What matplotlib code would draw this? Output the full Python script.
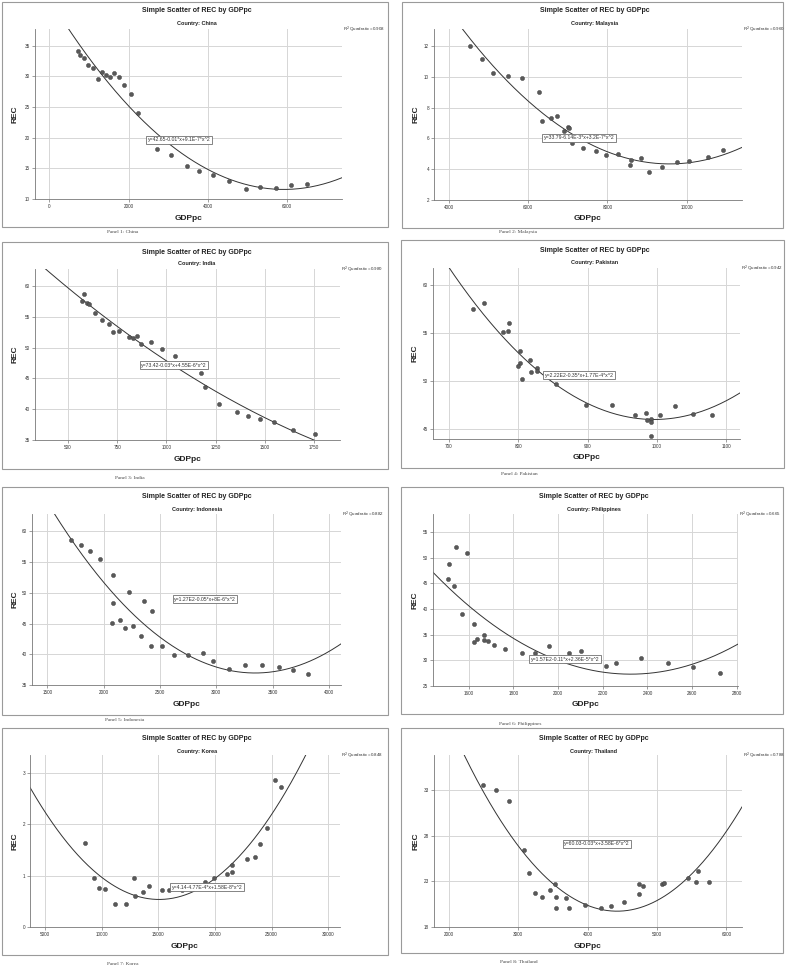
import numpy as np
import matplotlib
matplotlib.use('Agg')
import matplotlib.pyplot as plt
from matplotlib.patches import Rectangle

# ---------------- data ----------------
countries = ['China', 'Malaysia', 'India', 'Pakistan', 'Indonesia', 'Philippines', 'Korea', 'Thailand']

china_gdp = [716, 775, 884, 985, 1112, 1221, 1322, 1432, 1533, 1642, 1760, 1895, 2055, 2248,
             2728, 3065, 3469, 3789, 4126, 4539, 4960, 5322, 5709, 6105, 6501]
china_rec = [34.18, 33.42, 33.04, 31.79, 31.36, 29.57, 30.65, 30.27, 29.84, 30.60, 29.84, 28.53,
             27.17, 24.02, 18.21, 17.12, 15.38, 14.57, 13.97, 12.88, 11.68, 11.96, 11.85, 12.23, 12.45]

malaysia_gdp = [4527, 4830, 5126, 5505, 5859, 6270, 6354, 6574, 6725, 6995, 7037, 6894, 7112, 7374,
                7714, 7975, 8261, 8564, 8606, 8851, 9053, 9373, 9752, 10063, 10526, 10914]
malaysia_rec = [12.0, 11.15, 10.26, 10.02, 9.93, 9.02, 7.15, 7.32, 7.45, 6.72, 6.67, 6.47, 5.70, 5.39,
                5.18, 4.94, 5.01, 4.25, 4.58, 4.75, 3.84, 4.12, 4.45, 4.51, 4.79, 5.22]

india_gdp = [573, 580, 595, 608, 639, 673, 710, 727, 757, 812, 829, 852, 869, 923, 979, 1042,
             1176, 1196, 1269, 1360, 1413, 1474, 1548, 1645, 1757]
india_rec = [57.67, 58.75, 57.34, 57.07, 55.66, 54.52, 53.82, 52.52, 52.79, 51.76, 51.65, 51.87,
             50.67, 50.94, 49.80, 48.61, 45.90, 43.68, 40.80, 39.50, 38.96, 38.42, 37.87, 36.63, 36.03]

pakistan_gdp = [734, 750, 786, 778, 785, 802, 817, 802, 799, 827, 818, 827, 806, 855, 898, 935,
                968, 985, 986, 991, 991, 991, 1004, 1026, 1052, 1079]
pakistan_rec = [57.51, 58.09, 56.02, 55.12, 55.19, 53.14, 52.17, 51.93, 51.62, 51.34, 50.96, 51.10,
                50.23, 49.71, 47.53, 47.53, 46.53, 46.73, 45.97, 46.08, 45.80, 44.27, 46.53, 47.46,
                46.63, 46.49]

indonesia_gdp = [1711, 1798, 1881, 1970, 2083, 2083, 2223, 2143, 2071, 2190, 2259, 2354, 2429, 2333,
                 2417, 2521, 2625, 2753, 2878, 2973, 3113, 3259, 3408, 3554, 3679, 3810]
indonesia_rec = [58.64, 57.83, 56.85, 55.49, 52.83, 48.32, 50.11, 45.54, 45.05, 44.24, 44.67, 48.75,
                 47.07, 42.93, 41.36, 41.36, 39.89, 39.89, 40.16, 38.91, 37.66, 38.21, 38.21, 37.99,
                 37.39, 36.79]

philippines_gdp = [1507, 1513, 1536, 1544, 1570, 1591, 1624, 1625, 1639, 1671, 1670, 1689, 1713, 1763,
                   1840, 1896, 1960, 2047, 2104, 2215, 2261, 2373, 2492, 2604, 2724]
philippines_rec = [45.9, 48.8, 44.5, 52.1, 39.0, 51.0, 37.0, 33.5, 34.2, 34.9, 33.9, 33.7, 32.9, 32.2,
                   31.4, 31.5, 32.7, 31.4, 31.8, 28.8, 29.4, 30.4, 29.4, 28.7, 27.5]

korea_gdp = [8529, 9294, 9765, 10324, 11176, 12118, 12824, 12941, 13618, 14176, 15324, 15912, 17059,
             19118, 19941, 21029, 21500, 21529, 22853, 23559, 24000, 24618, 25265, 25824]
korea_rec = [1.64, 0.96, 0.76, 0.74, 0.45, 0.45, 0.95, 0.61, 0.68, 0.79, 0.71, 0.71, 0.71,
             0.88, 0.95, 1.03, 1.07, 1.21, 1.32, 1.35, 1.62, 1.92, 2.85, 2.72]

thailand_gdp = [2501, 2684, 2871, 3078, 3160, 3237, 3343, 3454, 3531, 3545, 3550, 3690, 3728, 3969,
                4190, 4335, 4522, 4744, 4744, 4801, 5071, 5095, 5442, 5567, 5586, 5745]
thailand_rec = [33.59, 33.00, 31.83, 26.45, 23.89, 21.69, 21.33, 22.02, 22.72, 21.25, 20.12, 21.18,
                20.12, 20.38, 20.08, 20.27, 20.74, 21.66, 22.68, 22.54, 22.68, 22.79, 23.34, 22.97,
                24.15, 22.90]

equations = ['y=42.65-0.01*x+9.1E-7*x^2', 'y=33.79-6.14E-3*x+3.2E-7*x^2',
             'y=73.42-0.03*x+4.55E-6*x^2', 'y=2.22E2-0.35*x+1.77E-4*x^2',
             'y=1.27E2-0.05*x+8E-6*x^2', 'y=1.57E2-0.11*x+2.36E-5*x^2',
             'y=4.14-4.77E-4*x+1.58E-8*x^2', 'y=60.03-0.03*x+3.58E-6*x^2']
r2_values = ['0.908', '0.960', '0.980', '0.942', '0.882', '0.665', '0.848', '0.788']

xticks_list = [[0, 2000, 4000, 6000], [4000, 6000, 8000, 10000],
               [500, 750, 1000, 1250, 1500, 1750], [700, 800, 900, 1000, 1100],
               [1500, 2000, 2500, 3000, 3500, 4000], [1600, 1800, 2000, 2200, 2400, 2600, 2800],
               [5000, 10000, 15000, 20000, 25000, 30000], [2000, 3000, 4000, 5000, 6000]]
yticks_list = [[10, 15, 20, 25, 30, 35], [2, 4, 6, 8, 10, 12], [35, 40, 45, 50, 55, 60],
               [45, 50, 55, 60], [35, 40, 45, 50, 55, 60], [25, 30, 35, 40, 45, 50, 55],
               [0, 1, 2, 3], [18, 23, 28, 33]]

xs = [china_gdp, malaysia_gdp, india_gdp, pakistan_gdp, indonesia_gdp, philippines_gdp, korea_gdp, thailand_gdp]
ys = [china_rec, malaysia_rec, india_rec, pakistan_rec, indonesia_rec, philippines_rec, korea_rec, thailand_rec]

# ---------------- layout (pixels) ----------------
W, H = 789, 967
layout = [
    dict(box=(2, 2, 388, 227), plot=(35, 29, 342, 199), title=10, sub=23, xlab=218, ylab=15, cap=(123, 232), eq=(179, 140),
         xlim=(-362, 7385), ylim=(10, 37.7)),
    dict(box=(402, 2, 783, 228), plot=(434, 29, 742, 200), title=10, sub=23, xlab=219, ylab=416, cap=(518, 232), eq=(579, 138),
         xlim=(3629, 11394), ylim=(2, 13.1)),
    dict(box=(2, 242, 388, 469), plot=(35, 269, 340, 440), title=252, sub=264, xlab=460, ylab=15, cap=(130, 478), eq=(174, 365),
         xlim=(332, 1882), ylim=(35, 62.8)),
    dict(box=(401, 240, 784, 468), plot=(433, 268, 740, 439), title=251, sub=263, xlab=458, ylab=415, cap=(519, 474), eq=(579, 375),
         xlim=(677, 1120), ylim=(44.0, 61.77)),
    dict(box=(2, 487, 388, 715), plot=(32, 514, 341, 685), title=497, sub=509, xlab=704, ylab=15, cap=(125, 720), eq=(205, 599),
         xlim=(1364, 4107), ylim=(35, 62.83)),
    dict(box=(401, 487, 783, 714), plot=(433, 514, 738, 686), title=497, sub=509, xlab=705, ylab=415, cap=(520, 724), eq=(565, 659),
         xlim=(1441, 2805), ylim=(25, 58.5)),
    dict(box=(2, 728, 388, 955), plot=(30, 755, 340, 927), title=738, sub=751, xlab=947, ylab=15, cap=(123, 964), eq=(207, 887),
         xlim=(3676, 31029), ylim=(0, 3.34)),
    dict(box=(401, 728, 783, 953), plot=(434, 755, 742, 927), title=738, sub=751, xlab=947, ylab=416, cap=(519, 962), eq=(597, 844),
         xlim=(1788, 6226), ylim=(18, 36.88)),
]

plt.rcParams['font.family'] = ['Liberation Sans', 'DejaVu Sans']
fig = plt.figure(figsize=(W / 100, H / 100), dpi=100)
fig.patch.set_facecolor('white')


def fx(px):
    return px / W


def fy(py):
    return 1 - py / H


for i, L in enumerate(layout):
    bx0, by0, bx1, by1 = L['box']
    fig.add_artist(Rectangle((fx(bx0), fy(by1)), (bx1 - bx0) / W, (by1 - by0) / H,
                             transform=fig.transFigure, fill=False, ec='#9a9a9a', lw=0.8))
    px0, py0, px1, py1 = L['plot']
    ax = fig.add_axes([fx(px0), fy(py1), (px1 - px0) / W, (py1 - py0) / H])
    ax.set_facecolor('white')
    x = np.array(xs[i], dtype=float)
    y = np.array(ys[i], dtype=float)
    ax.set_xlim(*L['xlim'])
    ax.set_ylim(*L['ylim'])
    ax.set_xticks(xticks_list[i])
    ax.set_yticks(yticks_list[i])
    ax.grid(True, color='#d6d6d6', lw=0.7, zorder=0)
    ax.set_axisbelow(True)
    for s in ['top', 'right']:
        ax.spines[s].set_visible(False)
    for s in ['left', 'bottom']:
        ax.spines[s].set_color('#777777')
        ax.spines[s].set_linewidth(0.6)
    ax.tick_params(labelsize=3.3, length=2, width=0.5, color='#777777', labelcolor='#333333', pad=1.5)
    coef = np.polyfit(x, y, 2)
    xx = np.linspace(L['xlim'][0], L['xlim'][1], 300)
    ax.plot(xx, np.polyval(coef, xx), color='#333333', lw=0.7, zorder=2)
    ax.scatter(x, y, s=9, color='#595959', edgecolors='#3a3a3a', linewidths=0.3, zorder=3)

    cx = (bx0 + bx1) / 2 + 2
    fig.text(fx(cx), fy(L['title']), 'Simple Scatter of REC by GDPpc', ha='center', va='center',
             fontsize=5, fontweight='bold', color='#222222')
    fig.text(fx(cx), fy(L['sub']), 'Country: ' + countries[i], ha='center', va='center',
             fontsize=4, fontweight='bold', color='#222222')
    fig.text(fx((px0 + px1) / 2), fy(L['xlab']), 'GDPpc', ha='center', va='center',
             fontsize=6, fontweight='bold', color='#222222')
    fig.text(fx(L['ylab']), fy((py0 + py1) / 2), 'REC', ha='center', va='center', rotation=90,
             fontsize=6, fontweight='bold', color='#222222')
    fig.text(fx(px1 + 1), fy(py0 + 1), 'R$^2$ Quadratic =' + r2_values[i], ha='left', va='center',
             fontsize=3.2, color='#333333')
    ex, ey = L['eq']
    fig.text(fx(ex), fy(ey), equations[i], ha='center', va='center', fontsize=3.7, color='#333333',
             bbox=dict(boxstyle='square,pad=0.25', fc='white', ec='#707070', lw=0.6), zorder=5)
    capx, capy = L['cap']
    fig.text(fx(capx), fy(capy), 'Panel %d: %s' % (i + 1, countries[i]), ha='center', va='center',
             fontsize=3.8, family=['Liberation Serif', 'DejaVu Serif'], color='#444444')

fig.savefig('out.png', dpi=100, facecolor='white')
